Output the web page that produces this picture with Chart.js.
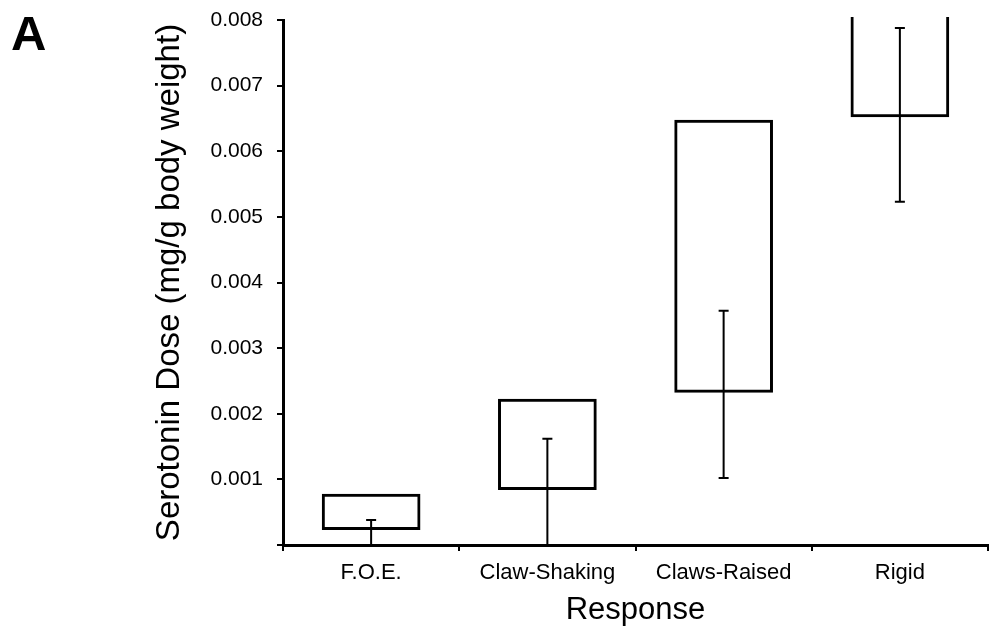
<!DOCTYPE html>
<html>
<head>
<meta charset="utf-8">
<script src="https://cdn.jsdelivr.net/npm/chart.js@4"></script>
<style>
  body { margin: 0; background: #fff; }
  #wrap { position: relative; width: 991px; height: 637px; }
  #panel { position: absolute; left: 11px; top: 9px; font: bold 49px "Liberation Sans", Arial, sans-serif; line-height: 48px; color: #000; }
</style>
</head>
<body>
<div id="wrap">
  <canvas id="myChart" width="991" height="637"></canvas>
  <div id="panel">A</div>
</div>
<script>
const categories = ['F.O.E.', 'Claw-Shaking', 'Claws-Raised', 'Rigid'];
// box bottom / top (Rigid box runs off the top of the axis)
const boxLow = [0.00023, 0.00084, 0.00232, 0.00652];
const boxHigh = [0.00078, 0.00223, 0.00648, 0.0085];
// error bar ends
const errLow = [0, 0, 0.00102, 0.00523];
const errHigh = [0.00038, 0.00162, 0.00357, 0.00788];

const FONT = '"Liberation Sans", Arial, sans-serif';

// draws the error bars on top of the boxes
const errorBars = {
    id: 'errorBars',
    afterDatasetsDraw(chart) {
        const ctx = chart.ctx;
        const y = chart.scales.y;
        const meta = chart.getDatasetMeta(0);
        ctx.save();
        ctx.strokeStyle = '#000';
        ctx.lineWidth = 2;
        meta.data.forEach((bar, i) => {
            const x = bar.x;
            const top = y.getPixelForValue(errHigh[i]);
            const bot = y.getPixelForValue(errLow[i]);
            ctx.beginPath();
            ctx.moveTo(x, top);
            ctx.lineTo(x, bot);
            ctx.moveTo(x - 5, top);
            ctx.lineTo(x + 5, top);
            if (errLow[i] > 0) {
                ctx.moveTo(x - 5, bot);
                ctx.lineTo(x + 5, bot);
            }
            ctx.stroke();
        });
        ctx.restore();
    }
};

new Chart(document.getElementById('myChart'), {
    type: 'bar',
    data: {
        labels: categories,
        datasets: [{
            data: boxLow.map((v, i) => [v, boxHigh[i]]),
            backgroundColor: 'rgba(255,255,255,0)',
            borderColor: '#000',
            borderWidth: 3,
            borderSkipped: false,
            barPercentage: 0.56,
            categoryPercentage: 1,
            clip: 3,
        }]
    },
    options: {
        responsive: false,
        animation: false,
        layout: {
            padding: { left: 130, right: 3, top: 20, bottom: 0 }
        },
        plugins: {
            legend: { display: false },
            tooltip: { enabled: false },
        },
        scales: {
            x: {
                grid: { drawOnChartArea: false, color: '#000', lineWidth: 2, tickLength: 6 },
                border: { color: '#000', width: 3 },
                ticks: { color: '#000', padding: 9, font: { family: FONT, size: 22 } },
                title: {
                    display: true,
                    text: 'Response',
                    color: '#000',
                    padding: { top: 0, bottom: 8 },
                    font: { family: FONT, size: 31 }
                },
                afterFit: (scale) => { scale.height = 92; },
            },
            y: {
                min: 0,
                max: 0.008,
                grid: { drawOnChartArea: false, color: '#000', lineWidth: 2, tickLength: 6 },
                border: { color: '#000', width: 3 },
                ticks: {
                    stepSize: 0.001,
                    color: '#000',
                    padding: 14,
                    font: { family: FONT, size: 21 },
                    callback: (v) => v === 0 ? '' : v.toFixed(3),
                },
                title: {
                    display: true,
                    text: 'Serotonin Dose (mg/g body weight)',
                    color: '#000',
                    padding: { top: 20, bottom: 0 },
                    font: { family: FONT, size: 33 }
                },
                afterFit: (scale) => {
                    scale.width = 153;
                    scale.paddingTop = 0;     // top label may overhang the padding
                    scale.paddingBottom = 0;
                },
            }
        }
    },
    plugins: [errorBars]
});
</script>
</body>
</html>
